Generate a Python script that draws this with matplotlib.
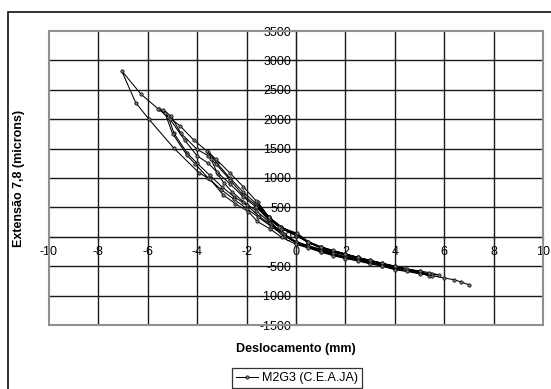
import matplotlib
matplotlib.use("Agg")
import matplotlib.pyplot as plt
from matplotlib.patches import Rectangle
import numpy as np

plt.rcParams['font.family'] = ['Liberation Sans', 'DejaVu Sans']

# ---- data (displacement mm, strain microns), cycle by cycle ----
cycle1_x = [0.0, -0.55, -1.05, -1.55, -1.6, -1.1, -0.6, 0.0, 0.5, 1.0, 1.5, 2.0, 2.5, 3.0,
            2.5, 2.0, 1.5, 1.0, 0.5, 0.0]
cycle1_y = [20, 130, 310, 590, 510, 280, 80, -80, -150, -210, -260, -310, -370, -420,
            -350, -290, -240, -170, -90, 30]

cycle2_x = [-0.6, -1.1, -1.6, -2.14, -2.67, -3.2, -3.55, -3.45, -3.16, -2.91, -2.6, -2.14,
            -1.6, -1.06, -0.57, 0.0, 0.5, 1.0, 1.5, 2.0, 2.5, 3.0, 3.5, 4.0, 4.4,
            4.0, 3.5, 3.0, 2.5, 2.0, 1.5, 1.0, 0.5, 0.0]
cycle2_y = [175, 340, 560, 760, 1000, 1250, 1450, 1330, 1060, 912, 770, 600,
            440, 240, 60, -100, -170, -230, -290, -350, -390, -430, -470, -530, -540,
            -500, -450, -400, -350, -300, -250, -180, -100, 20]

cycle3_x = [-0.6, -1.1, -1.6, -2.14, -2.67, -3.23, -3.56, -4.0, -4.66, -5.06, -5.37,
            -5.17, -4.94, -4.4, -4.0, -3.5, -3.0, -2.5, -2.0, -1.5, -1.0, -0.5, 0.0,
            0.5, 1.0, 1.5, 2.0, 2.5, 3.0, 3.5, 4.0, 4.5, 5.0, 5.4,
            5.0, 4.4, 4.0, 3.5, 3.0, 2.5, 2.0, 1.5, 1.0, 0.5, 0.0]
cycle3_y = [160, 330, 530, 707, 969, 1230, 1380, 1485, 1760, 2054, 2156,
            2042, 1760, 1420, 1250, 1050, 850, 680, 540, 350, 200, 40, -110,
            -180, -250, -300, -360, -400, -450, -490, -550, -570, -620, -660,
            -590, -540, -520, -460, -410, -360, -310, -250, -190, -100, 50]

cycle4_x = [-0.6, -1.1, -1.6, -2.14, -2.67, -3.2, -3.56, -4.0, -4.5, -5.1, -5.53,
            -5.3, -5.0, -4.41, -4.09, -3.56, -3.02, -2.52, -2.0, -1.52, -1.0, -0.5, 0.0,
            0.5, 1.0, 1.5, 2.0, 2.5, 3.0, 3.5, 4.0, 4.5, 5.0, 5.5, 5.8,
            5.4, 5.0, 4.5, 4.0, 3.5, 3.0, 2.5, 2.0, 1.5, 1.0, 0.5, 0.05]
cycle4_y = [140, 300, 500, 680, 900, 1100, 1254, 1375, 1640, 2000, 2168,
            2100, 1756, 1385, 1243, 1000, 800, 640, 480, 330, 170, 20, -90,
            -160, -230, -280, -340, -380, -430, -470, -520, -560, -600, -640, -650,
            -610, -580, -550, -500, -450, -400, -350, -290, -230, -170, -80, 60]

cycle5_x = [-0.68, -1.1, -1.6, -2.14, -2.67, -3.23, -3.59, -4.13, -4.68, -5.57, -6.27, -7.06,
            -6.49, -5.95, -4.94, -3.93, -3.48, -2.94, -2.45, -1.93, -1.57, -1.06, -0.57, 0.0,
            0.5, 1.0, 1.5, 2.0, 2.5, 3.0, 3.5, 4.0, 4.5, 5.0, 5.5, 6.0, 6.4, 6.7, 7.0]
cycle5_y = [171, 331, 604, 855, 1083, 1317, 1454, 1642, 1881, 2172, 2423, 2825,
            2281, 1998, 1505, 1090, 978, 711, 560, 430, 262, 137, -10, -130,
            -190, -260, -320, -370, -410, -460, -500, -560, -590, -630, -660, -700, -730, -770, -815]

x_ticks = [-10, -8, -6, -4, -2, 0, 2, 4, 6, 8, 10]
y_ticks = [-1500, -1000, -500, 0, 500, 1000, 1500, 2000, 2500, 3000, 3500]
series_label = "M2G3 (C.E.A.JA)"
x_label = "Deslocamento (mm)"
y_label = "Extensão 7,8 (microns)"

disp = np.concatenate([cycle1_x, cycle2_x, cycle3_x, cycle4_x, cycle5_x])
strain = np.concatenate([cycle1_y, cycle2_y, cycle3_y, cycle4_y, cycle5_y])

W, H = 551, 389
fig = plt.figure(figsize=(W / 100, H / 100), dpi=100)
fig.patch.set_facecolor('white')

# outer chart border (extends beyond right/bottom edges)
fig.add_artist(Rectangle((7.5 / W, -0.1), 1.2, 1 - 11.5 / H + 0.1, transform=fig.transFigure,
                         fill=False, edgecolor='#111111', linewidth=1.2))

ax = fig.add_axes([49 / W, 1 - 325 / H, (543 - 49) / W, (325 - 31) / H])
ax.set_xlim(x_ticks[0], x_ticks[-1])
ax.set_ylim(y_ticks[0], y_ticks[-1])

# gridlines
for xv in x_ticks[1:-1]:
    ax.axvline(xv, color='#1a1a1a', linewidth=1.0, zorder=1)
for yv in y_ticks[1:-1]:
    ax.axhline(yv, color='#1a1a1a', linewidth=1.0, zorder=1)

# spines: plot-area frame gray, axes crossing at origin
for side in ['top', 'right']:
    ax.spines[side].set_visible(False)
ax.spines['left'].set_position(('data', 0))
ax.spines['bottom'].set_position(('data', 0))
ax.spines['left'].set_color('#1a1a1a')
ax.spines['bottom'].set_color('#1a1a1a')
ax.add_patch(Rectangle((0, 0), 1, 1, transform=ax.transAxes, fill=False,
                       edgecolor='#909090', linewidth=1.5, zorder=5, clip_on=False))

ax.set_xticks(x_ticks)
ax.set_yticks(y_ticks)
ax.set_xticklabels([str(v) for v in x_ticks])
ax.set_yticklabels([str(v) for v in y_ticks])
ax.tick_params(axis='both', direction='inout', length=5, width=0.8, color='#1a1a1a',
               labelsize=9)
ax.tick_params(axis='x', pad=4)
ax.tick_params(axis='y', pad=1)
for lbl in ax.get_yticklabels():
    lbl.set_zorder(6)

ax.plot(disp, strain, color='black', linewidth=0.75, marker='o', markersize=2.4,
        markerfacecolor='#777777', markeredgecolor='black', markeredgewidth=0.5,
        label=series_label, zorder=4)

fig.text(296 / W, 1 - 349 / H, x_label, ha='center', va='center', fontsize=9,
         fontweight='bold')
fig.text(19 / W, 1 - 178 / H, y_label, ha='center', va='center', fontsize=9,
         fontweight='bold', rotation=90)

leg = ax.legend(loc='center', bbox_to_anchor=(297 / W, 1 - 378 / H),
                bbox_transform=fig.transFigure, fontsize=9, frameon=True, fancybox=False,
                borderpad=0.3, handlelength=1.8, handletextpad=0.3, borderaxespad=0)
leg.get_frame().set_edgecolor('black')
leg.get_frame().set_linewidth(0.9)

fig.savefig('out.png', dpi=100)
